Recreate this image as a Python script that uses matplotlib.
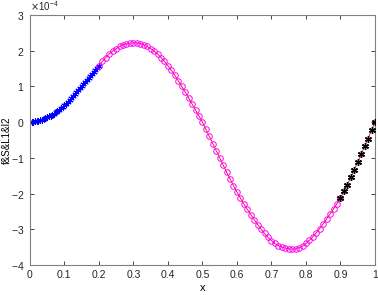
import matplotlib.pyplot as plt
import numpy as np
from matplotlib.ticker import ScalarFormatter

# values are in units of 1e-4
x_blue = np.arange(0, 41) * 0.005
y_blue = [0.00, 0.01, 0.01, 0.02, 0.03, 0.04, 0.06, 0.07, 0.09, 0.11,
          0.13, 0.16, 0.18, 0.21, 0.24, 0.27, 0.31, 0.35, 0.39, 0.43,
          0.47, 0.52, 0.57, 0.62, 0.67, 0.73, 0.78, 0.84, 0.89, 0.95,
          1.01, 1.07, 1.13, 1.18, 1.24, 1.30, 1.35, 1.41, 1.47, 1.52,
          1.58]

x_mag = 0.2 + np.arange(0, 71) * 0.01
y_mag = [1.58, 1.70, 1.81, 1.91, 1.99, 2.06, 2.12, 2.16, 2.19, 2.21,
         2.22, 2.22, 2.20, 2.17, 2.12, 2.06, 1.99, 1.91, 1.81, 1.70,
         1.58, 1.45, 1.31, 1.16, 1.00, 0.84, 0.68, 0.51, 0.34, 0.17,
         0.00, -0.20, -0.40, -0.60, -0.80, -1.00, -1.20, -1.40, -1.59, -1.78,
         -1.96, -2.13, -2.29, -2.44, -2.59, -2.73, -2.87, -3.00, -3.12, -3.23,
         -3.32, -3.40, -3.46, -3.50, -3.53, -3.55, -3.56, -3.55, -3.52, -3.47,
         -3.40, -3.31, -3.21, -3.10, -2.98, -2.85, -2.71, -2.57, -2.43, -2.28,
         -2.13]

x_blk = 0.9 + np.arange(0, 11) * 0.01
y_blk = [-2.13, -1.94, -1.75, -1.54, -1.33, -1.12, -0.90, -0.68, -0.46, -0.23, 0.00]

scale = 1e-4
asterisk = (6, 2, 0)

plt.rcParams['font.family'] = ['Liberation Sans', 'DejaVu Sans']
plt.rcParams['axes.unicode_minus'] = False
fig = plt.figure(figsize=(3.78, 2.95), dpi=100)
ax = fig.add_axes([0.079, 0.102, 0.913, 0.847])

# red reference curve underneath all the markers
x_all = np.concatenate([x_blue, x_mag[1:], x_blk[1:]])
y_all = np.concatenate([y_blue, y_mag[1:], y_blk[1:]]) * scale
ax.plot(x_all, y_all, color='red', lw=0.6, zorder=1)

ax.plot(x_blue, np.array(y_blue) * scale, ls='none', marker=asterisk, color='blue',
        ms=4.5, mew=0.7, zorder=2)
ax.plot(x_mag, np.array(y_mag) * scale, 'o', mfc='none', mec='magenta', ms=4, mew=0.7, zorder=2)
ax.plot(x_blk, np.array(y_blk) * scale, ls='none', marker=asterisk, color='black',
        ms=5, mew=1.0, zorder=3)

ax.set_xlim(0, 1)
ax.set_ylim(-4e-4, 3e-4)
ax.set_xticks(np.arange(0, 1.01, 0.1))
ax.set_xticklabels(['0', '0.1', '0.2', '0.3', '0.4', '0.5', '0.6', '0.7', '0.8', '0.9', '1'])
ax.set_yticks(np.arange(-4, 4) * scale)
fmt = ScalarFormatter(useMathText=True)
fmt.set_powerlimits((-3, 3))
ax.yaxis.set_major_formatter(fmt)
ax.yaxis.get_offset_text().set_fontsize(7)

ax.tick_params(direction='in', length=3, width=0.6, labelsize=7.5, colors='0.15',
               top=True, right=True, pad=4)
for s in ax.spines.values():
    s.set_color('0.5')
    s.set_linewidth(0.8)

ax.set_xlabel('x', fontsize=8, labelpad=2)
ax.set_ylabel('f&S&L1&I2', fontsize=7)
ax.yaxis.set_label_coords(-0.052, 0.5)

fig.savefig('out.png', dpi=100)
